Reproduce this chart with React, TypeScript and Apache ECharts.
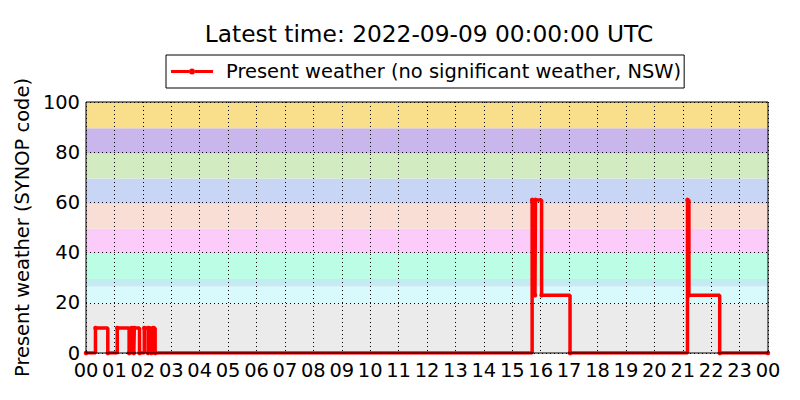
import React, { useEffect, useRef } from "react";
import * as echarts from "echarts";

// Change points of the present-weather code (time of change, new code)
const times = [
  "00:00", "00:20", "00:46", "01:06", "01:31", "01:36", "01:41", "01:42", "01:53",
  "02:03", "02:11", "02:12", "02:18", "02:22", "02:26",
  "15:42", "15:48", "15:49", "16:02", "17:02",
  "21:10", "21:13", "22:18", "24:00",
];
const codes = [
  0, 10, 0, 10, 0, 10, 0, 10, 0,
  10, 0, 10, 0, 10, 0,
  61, 23, 61, 23, 0,
  61, 23, 0, 0,
];

// SYNOP code class bands
const bandEdges = [0, 19.5, 26.5, 29.5, 39.5, 49.5, 59.5, 69.5, 79.5, 89.5, 100];
const bandColors = [
  "#ebebeb", "#d9fafd", "#c4ebf2", "#bbfde5", "#fbcbf9",
  "#f8ded5", "#c9d5f4", "#d3ebc1", "#c9b6ec", "#f9df8b",
];

const xTickLabels = [
  "00", "01", "02", "03", "04", "05", "06", "07", "08", "09", "10", "11",
  "12", "13", "14", "15", "16", "17", "18", "19", "20", "21", "22", "23", "00",
];

const titleText = "Latest time: 2022-09-09 00:00:00 UTC";
const seriesName = "Present weather (no significant weather, NSW)";
const yName = "Present weather (SYNOP code)";

const toHours = (s: string) => {
  const [h, m] = s.split(":").map(Number);
  return h + m / 60;
};

const FONT = "DejaVu Sans";
const FS = 19.44;

export default function App() {
  const ref = useRef<HTMLDivElement>(null);
  useEffect(() => {
    if (!ref.current) return;
    const chart = echarts.init(ref.current, null, { renderer: "svg" });
    const lineData = times.map((t, i) => [toHours(t), codes[i]]);
    const bandData = bandColors.map((_, i) => [bandEdges[i], bandEdges[i + 1], i]);
    chart.setOption({
      animation: false,
      backgroundColor: "#fff",
      textStyle: { fontFamily: FONT },
      title: {
        text: titleText,
        left: 424,
        textAlign: "center",
        top: 17,
        textStyle: { fontFamily: FONT, fontSize: 23.3, fontWeight: "normal", color: "#000" },
      },
      legend: {
        data: [seriesName],
        left: 166,
        top: 55,
        padding: [7, 3, 7, 5],
        borderColor: "#000",
        borderWidth: 1,
        borderRadius: 0,
        itemWidth: 42,
        itemHeight: 6,
        icon: "path://M0,3.5 L18,3.5 L18,6.5 L0,6.5 Z M24,3.5 L42,3.5 L42,6.5 L24,6.5 Z M18,5 A3,3 0 1,1 24,5 A3,3 0 1,1 18,5 Z M0,2 L0,2 M0,8 L0,8",
        textStyle: { fontFamily: FONT, fontSize: FS, color: "#000", padding: [0, 0, 0, 8] },
      },
      grid: {
        left: 86,
        right: 32,
        top: 102,
        bottom: 47,
        show: true,
        z: 5,
        backgroundColor: "transparent",
        borderColor: "#000",
        borderWidth: 1,
      },
      xAxis: {
        type: "value",
        min: 0,
        max: 24,
        interval: 1,
        z: 1,
        axisLine: { show: false },
        axisTick: { show: false },
        axisLabel: {
          fontFamily: FONT,
          fontSize: FS,
          color: "#000",
          margin: 8,
          formatter: (v: number) => xTickLabels[Math.round(v)],
        },
        splitLine: { show: true, lineStyle: { color: "#000", type: [1, 3], width: 1 } },
      },
      yAxis: {
        type: "value",
        min: 0,
        max: 100,
        interval: 20,
        z: 1,
        name: yName,
        nameLocation: "middle",
        nameGap: 48,
        nameRotate: 90,
        nameTextStyle: { fontFamily: FONT, fontSize: FS, color: "#000" },
        axisLine: { show: false },
        axisTick: { show: false },
        axisLabel: { fontFamily: FONT, fontSize: FS, color: "#000", margin: 6 },
        splitLine: { show: true, lineStyle: { color: "#000", type: [1, 3], width: 1 } },
      },
      series: [
        {
          type: "custom",
          name: "bands",
          z: 0,
          silent: true,
          data: bandData,
          encode: { x: 0, y: 1 },
          renderItem: (params: any, api: any) => {
            const lo = api.value(0);
            const hi = api.value(1);
            const p0 = api.coord([0, hi]);
            const p1 = api.coord([24, lo]);
            return {
              type: "rect",
              shape: { x: p0[0], y: p0[1], width: p1[0] - p0[0], height: p1[1] - p0[1] },
              style: { fill: bandColors[api.value(2)] },
            };
          },
        },
        {
          type: "line",
          name: seriesName,
          z: 3,
          step: "end",
          data: lineData,
          showSymbol: true,
          symbol: "circle",
          symbolSize: 4.5,
          itemStyle: { color: "#ff0000" },
          lineStyle: { color: "#ff0000", width: 3.5 },
        },
      ],
    });
    return () => chart.dispose();
  }, []);
  return <div ref={ref} style={{ position: "absolute", left: 0, top: 0, width: 800, height: 400 }} />;
}
